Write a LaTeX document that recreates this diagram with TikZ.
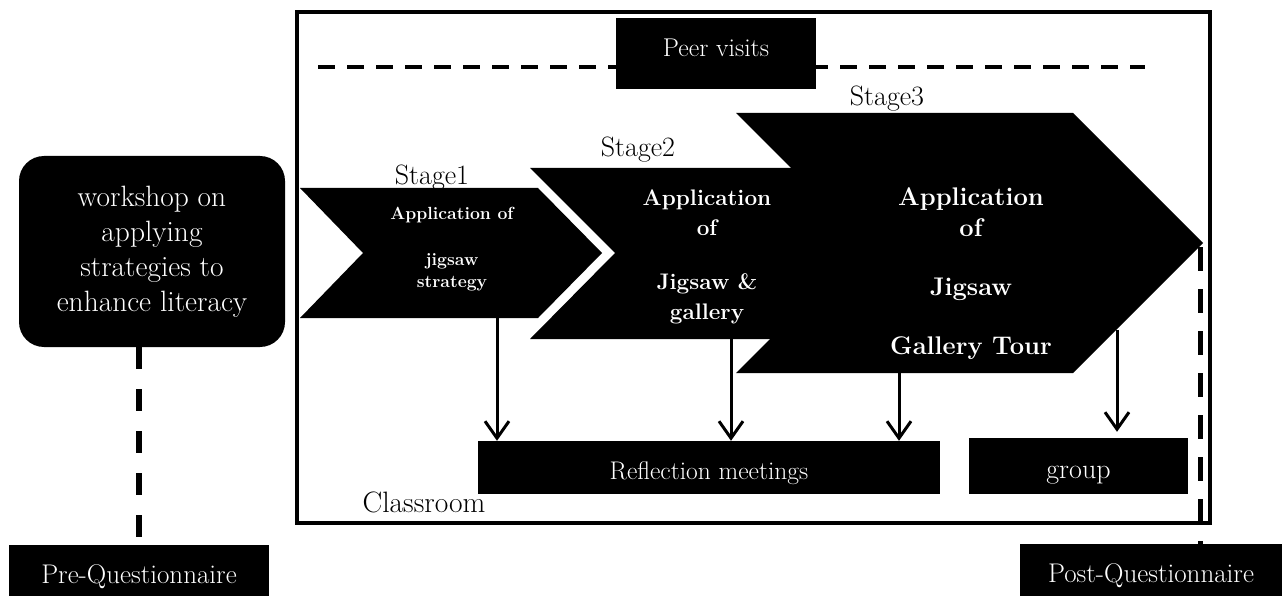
\documentclass[tikz,border=0pt]{standalone}
\usepackage{tikz}
\usetikzlibrary{arrows.meta}

\newcommand{\lblsize}{\fontsize{27}{32}\selectfont}
\newcommand{\stagesize}{\fontsize{28}{33}\selectfont}

\tikzset{
  blackbox/.style={fill=black, text=white, inner sep=0pt, font=\lblsize},
  flowarrow/.style={line width=3pt, -{Straight Barb[length=17pt,width=24pt]}},
  hdash/.style={line width=4pt, dash pattern=on 17pt off 12pt},
  vdash/.style={line width=6pt, dash pattern=on 22pt off 20pt},
  chevtext/.style={text=white, align=center, inner sep=0pt}
}

\begin{document}
\begin{tikzpicture}[x=1pt, y=-1pt]
\useasboundingbox (0,0) rectangle (1282,596);

% classroom frame
\draw[line width=3.5pt] (297,12) rectangle (1210,523);
\node (room) at (424,502) {\fontsize{29.5}{34}\selectfont Classroom};

% peer visits line
\coordinate (pvl) at (318,67);
\coordinate (pvr) at (1145,67);
\draw[hdash] (pvl) -- (pvr);
\node[blackbox, anchor=base, minimum width=200pt, text height=39pt, text depth=32pt,
  font=\fontsize{25.7}{30}\selectfont] (peer) at (716,57) {Peer visits};

% the three stages
\fill (300,188) -- (538,188) -- (602,253) -- (538,318) -- (300,318) -- (363,253) -- cycle;
\fill (530,168) -- (820,168) -- (905,253) -- (820,339) -- (530,339) -- (615,253) -- cycle;
\fill (736,113) -- (1073,113) -- (1203,243) -- (1073,373) -- (736,373) -- (866,243) -- cycle;

\node (st1) at (432,178) {\stagesize Stage1};
\node (st2) at (638,150) {\stagesize Stage2};
\node (st3) at (887,99) {\stagesize Stage3};

\node[chevtext, font=\fontsize{17.6}{22}\selectfont\bfseries] (c1) at (452,249)
  {Application of\\[24pt]jigsaw\\strategy};
\node[chevtext, font=\fontsize{22.5}{30}\selectfont\bfseries] (c2) at (707,257)
  {Application\\of\\[24pt]Jigsaw \&\\gallery};
\node[chevtext, font=\fontsize{25.5}{31}\selectfont\bfseries] (c3) at (971,274)
  {Application\\of\\[28pt]Jigsaw\\[28pt]Gallery Tour};

% meetings
\node[blackbox, anchor=base, minimum width=462pt, text height=38pt, text depth=15pt,
  font=\fontsize{25.5}{30}\selectfont] (refl) at (709,479) {Reflection meetings};
\node[blackbox, anchor=base, minimum width=219pt, text height=40pt, text depth=16pt,
  font=\fontsize{28}{33}\selectfont] (grp) at (1078.5,478) {group};

\coordinate (s1) at (497,318);
\coordinate (s2) at (731,339);
\coordinate (s3) at (899,373);
\coordinate (s4) at (1117,330);
\draw[flowarrow] (s1) -- (s1 |- refl.north);
\draw[flowarrow] (s2) -- (s2 |- refl.north);
\draw[flowarrow] (s3) -- (s3 |- refl.north);
\draw[flowarrow, shorten >=6pt] (s4) -- (s4 |- grp.north);

% before and after
\node[fill=black, text=white, rounded corners=25pt, align=center, minimum width=266pt, minimum height=191pt,
  font=\fontsize{29.4}{35}\selectfont] (ws) at (152,251.5)
  {workshop on\\applying\\strategies to\\enhance literacy};
\node[blackbox, anchor=base, minimum width=260pt, text height=38pt, text depth=14pt] (pre) at (139,583) {Pre-Questionnaire};
\node[blackbox, anchor=base, minimum width=262pt, text height=38pt, text depth=15pt] (post) at (1151,582) {Post-Questionnaire};

\draw[vdash] (pre.north |- ws.south) -- (pre.north);
\coordinate (tip) at (1200,247);
\draw[vdash, line width=5pt, dash pattern=on 24pt off 18pt] (tip) -- (tip |- post.north);
\end{tikzpicture}
\end{document}
